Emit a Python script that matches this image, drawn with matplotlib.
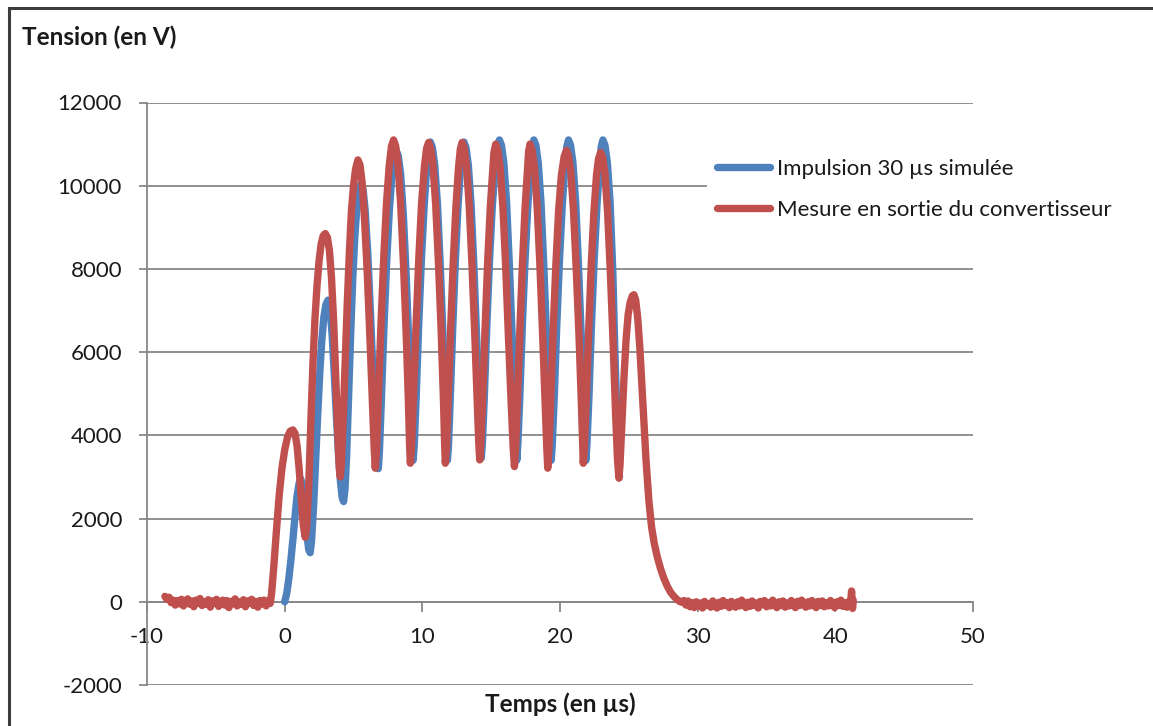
import matplotlib
matplotlib.use('Agg')
import matplotlib.pyplot as plt
from matplotlib.patches import Rectangle

plt.rcParams['font.family'] = ['Lato', 'DejaVu Sans']
plt.rcParams['axes.unicode_minus'] = False

# simulated 30 us pulse (blue): (time in us, voltage in V)
sim_pts = [
    (0.0, 0), (0.15, 200), (0.3, 550), (0.45, 1000), (0.6, 1500), (0.75, 2050), (0.9, 2550),
    (1.05, 2850), (1.17, 2950), (1.3, 2800), (1.45, 2300), (1.6, 1650), (1.75, 1250), (1.85, 1180),
    (1.95, 1450), (2.1, 2300), (2.25, 3400), (2.4, 4500), (2.55, 5500), (2.7, 6300), (2.85, 6850),
    (3.0, 7150), (3.15, 7250), (3.3, 7050), (3.45, 6400), (3.6, 5500), (3.75, 4500), (3.9, 3600),
    (4.05, 2900), (4.18, 2500), (4.28, 2410), (4.38, 2700), (4.5, 3500), (4.65, 5000), (4.8, 6500),
    (4.95, 7800), (5.1, 8800), (5.25, 9500), (5.4, 9900), (5.55, 10050), (5.7, 9900), (5.85, 9400),
    (6.05, 8300), (6.25, 6800), (6.45, 5200), (6.6, 4000), (6.72, 3300), (6.8, 3200),
    (6.88, 3600), (7.02, 4800), (7.2, 6500), (7.4, 8100), (7.6, 9400), (7.8, 10300), (7.95, 10700),
    (8.1, 10850), (8.25, 10720), (8.42, 10300), (8.62, 9300), (8.82, 7900), (9.02, 6200),
    (9.18, 4600), (9.28, 3700), (9.33, 3400),
    (9.41, 3750), (9.55, 4900), (9.73, 6600), (9.93, 8200), (10.13, 9500), (10.31, 10400),
    (10.45, 10900), (10.58, 11050), (10.73, 10920), (10.9, 10500), (11.1, 9550), (11.3, 8100),
    (11.5, 6400), (11.67, 4800), (11.77, 3800), (11.82, 3400),
    (11.9, 3750), (12.03, 4900), (12.21, 6600), (12.4, 8200), (12.59, 9500), (12.77, 10450),
    (12.9, 10900), (13.02, 11050), (13.17, 10920), (13.34, 10500), (13.54, 9550), (13.74, 8100),
    (13.94, 6400), (14.12, 4800), (14.22, 3800), (14.28, 3450),
    (14.36, 3800), (14.5, 4900), (14.68, 6600), (14.88, 8200), (15.08, 9500), (15.3, 10500),
    (15.45, 10950), (15.6, 11100), (15.75, 10970), (15.92, 10550), (16.12, 9600), (16.32, 8100),
    (16.52, 6400), (16.7, 4800), (16.8, 3800), (16.86, 3400),
    (16.94, 3800), (17.08, 4900), (17.26, 6600), (17.46, 8200), (17.66, 9500), (17.86, 10500),
    (17.98, 10950), (18.1, 11100), (18.25, 10970), (18.42, 10550), (18.62, 9600), (18.82, 8100),
    (19.02, 6400), (19.2, 4800), (19.3, 3800), (19.36, 3400),
    (19.44, 3800), (19.58, 4900), (19.76, 6600), (19.96, 8200), (20.16, 9500), (20.36, 10500),
    (20.5, 10950), (20.62, 11100), (20.77, 10970), (20.94, 10550), (21.14, 9600), (21.34, 8100),
    (21.54, 6400), (21.72, 4800), (21.82, 3800), (21.88, 3400),
    (21.96, 3800), (22.1, 4900), (22.28, 6600), (22.48, 8200), (22.68, 9500), (22.88, 10500),
    (23.0, 10950), (23.12, 11100), (23.27, 10970), (23.44, 10550), (23.64, 9600), (23.84, 7900),
    (23.98, 6100), (24.12, 4600), (24.25, 3400), (24.32, 3000),
]

# measured converter output (red): baseline before the pulse
mes_pre = [
    (-8.7, 130), (-8.55, 60), (-8.4, 110), (-8.25, -20), (-8.1, 40), (-7.95, -80), (-7.8, 30),
    (-7.65, -50), (-7.5, 60), (-7.35, -100), (-7.2, 10), (-7.05, 70), (-6.9, -60), (-6.75, 20),
    (-6.6, -120), (-6.45, 40), (-6.3, -30), (-6.15, 80), (-6.0, -90), (-5.85, 0), (-5.7, -60),
    (-5.55, 50), (-5.4, -130), (-5.25, 20), (-5.1, -40), (-4.95, 60), (-4.8, -110), (-4.65, -10),
    (-4.5, 40), (-4.35, -80), (-4.2, 30), (-4.05, -140), (-3.9, 10), (-3.75, -50), (-3.6, 70),
    (-3.45, -100), (-3.3, 0), (-3.15, -60), (-3.0, 50), (-2.85, -120), (-2.7, 20), (-2.55, -40),
    (-2.4, 60), (-2.25, -90), (-2.1, 10), (-1.95, -130), (-1.8, 30), (-1.65, -50), (-1.5, 40),
    (-1.35, -100), (-1.2, 20), (-1.05, -40),
]

# measured: the pulse itself
mes_pulse = [
    (-0.95, 200), (-0.8, 800), (-0.6, 1700), (-0.4, 2550), (-0.2, 3200), (0.0, 3650), (0.2, 3950),
    (0.4, 4100), (0.6, 4130), (0.75, 4050), (0.9, 3750), (1.05, 3200), (1.2, 2500), (1.35, 1850),
    (1.49, 1550), (1.6, 1800), (1.75, 2800), (1.9, 4300), (2.05, 5700), (2.2, 6800), (2.35, 7600),
    (2.5, 8200), (2.65, 8600), (2.8, 8800), (2.95, 8850), (3.1, 8760), (3.25, 8450), (3.4, 7800),
    (3.55, 6800), (3.7, 5500), (3.85, 4100), (3.97, 3200), (4.04, 3000), (4.12, 3300),
    (4.25, 4400), (4.4, 5800), (4.55, 7200), (4.7, 8400), (4.85, 9400), (5.0, 10000),
    (5.15, 10400), (5.32, 10620), (5.47, 10500), (5.62, 10100), (5.8, 9200), (6.0, 7900),
    (6.2, 6300), (6.38, 4700), (6.5, 3700), (6.58, 3210),
    (6.66, 3600), (6.8, 4900), (7.0, 6700), (7.2, 8300), (7.4, 9600), (7.6, 10500), (7.76, 10950),
    (7.91, 11100), (8.06, 10960), (8.22, 10550), (8.42, 9600), (8.62, 8200), (8.82, 6500),
    (8.98, 4900), (9.07, 3800), (9.13, 3330),
    (9.21, 3700), (9.35, 4900), (9.55, 6700), (9.75, 8300), (9.95, 9600), (10.15, 10450),
    (10.31, 10900), (10.46, 11040), (10.61, 10900), (10.77, 10500), (10.97, 9550), (11.17, 8150),
    (11.37, 6500), (11.53, 4900), (11.62, 3800), (11.67, 3330),
    (11.75, 3700), (11.88, 4900), (12.06, 6600), (12.25, 8200), (12.44, 9500), (12.62, 10400),
    (12.76, 10880), (12.89, 11040), (13.04, 10900), (13.2, 10500), (13.4, 9550), (13.6, 8150),
    (13.8, 6500), (13.98, 4900), (14.1, 3800), (14.17, 3410),
    (14.25, 3800), (14.38, 4900), (14.56, 6600), (14.75, 8200), (14.94, 9500), (15.12, 10400),
    (15.2, 10800), (15.33, 11000), (15.48, 10860), (15.65, 10450), (15.85, 9500), (16.05, 8100),
    (16.25, 6400), (16.45, 4800), (16.6, 3700), (16.69, 3250),
    (16.77, 3650), (16.9, 4800), (17.08, 6500), (17.27, 8100), (17.46, 9450), (17.64, 10400),
    (17.72, 10820), (17.82, 11000), (17.97, 10860), (18.14, 10450), (18.34, 9500), (18.54, 8100),
    (18.74, 6400), (18.92, 4800), (19.04, 3700), (19.11, 3210),
    (19.19, 3650), (19.32, 4800), (19.5, 6500), (19.7, 8100), (19.9, 9400), (20.1, 10250),
    (20.3, 10700), (20.47, 10850), (20.62, 10720), (20.78, 10350), (20.98, 9400), (21.18, 8000),
    (21.38, 6400), (21.55, 4800), (21.64, 3800), (21.69, 3330),
    (21.77, 3700), (21.9, 4800), (22.08, 6500), (22.27, 8100), (22.46, 9350), (22.65, 10250),
    (22.8, 10650), (22.95, 10800), (23.1, 10680), (23.26, 10300), (23.46, 9350), (23.66, 7900),
    (23.86, 6200), (24.04, 4500), (24.18, 3400), (24.28, 2970),
    (24.36, 3300), (24.5, 4300), (24.65, 5400), (24.8, 6300), (24.95, 6900), (25.1, 7200),
    (25.25, 7350), (25.37, 7380), (25.5, 7250), (25.65, 6800), (25.8, 6100), (25.95, 5200),
    (26.1, 4300), (26.25, 3400), (26.45, 2450), (26.65, 1800), (26.85, 1400), (27.05, 1100),
    (27.3, 800), (27.55, 560), (27.8, 370), (28.05, 220), (28.3, 120), (28.55, 40), (28.8, -10),
]

# measured: baseline after the pulse
mes_post = [
    (29.0, 30), (29.15, -80), (29.3, 20), (29.45, -120), (29.6, -20), (29.75, -140), (29.9, 0),
    (30.05, -100), (30.2, -30), (30.35, -150), (30.5, 10), (30.65, -90), (30.8, -40),
    (30.95, -130), (31.1, 20), (31.25, -70), (31.4, -150), (31.55, -10), (31.7, -110), (31.85, 30),
    (32.0, -90), (32.15, -20), (32.3, -140), (32.45, 10), (32.6, -80), (32.75, -130), (32.9, 0),
    (33.05, -100), (33.2, 40), (33.35, -60), (33.5, -140), (33.65, -10), (33.8, -110), (33.95, 20),
    (34.1, -90), (34.25, -30), (34.4, -150), (34.55, 10), (34.7, -70), (34.85, 30), (35.0, -120),
    (35.15, -20), (35.3, -100), (35.45, 40), (35.6, -80), (35.75, -140), (35.9, 0), (36.05, -90),
    (36.2, 20), (36.35, -130), (36.5, -30), (36.65, -100), (36.8, 30), (36.95, -70), (37.1, -140),
    (37.25, 10), (37.4, -90), (37.55, 40), (37.7, -60), (37.85, -130), (38.0, 0), (38.15, -100),
    (38.3, 30), (38.45, -80), (38.6, -140), (38.75, 10), (38.9, -90), (39.05, 20), (39.2, -120),
    (39.35, -20), (39.5, -100), (39.65, 30), (39.8, -70), (39.95, -140), (40.1, 0), (40.25, -90),
    (40.4, 40), (40.55, -110), (40.7, -20), (40.85, -130), (41.0, 10), (41.1, -60), (41.18, 260),
    (41.25, -160), (41.3, 40),
]

lab_sim = 'Impulsion 30 µs simulée'
lab_mes = 'Mesure en sortie du convertisseur'
xticks = [-10, 0, 10, 20, 30, 40, 50]
yticks = [-2000, 0, 2000, 4000, 6000, 8000, 10000, 12000]

t_sim = [p[0] for p in sim_pts]
v_sim = [p[1] for p in sim_pts]
mes_all = mes_pre + mes_pulse + mes_post
t_mes = [p[0] for p in mes_all]
v_mes = [p[1] for p in mes_all]

W, H = 1153, 726
fig = plt.figure(figsize=(W / 100, H / 100), dpi=100)
ax = fig.add_axes([147 / W, 1 - 685 / H, 826 / W, 582.5 / H])

blue = '#4F81BD'
red = '#C0504D'
grid_c = '#878787'
txt_c = '#1a1a1a'

ax.plot(t_sim, v_sim, color=blue, lw=5.3, solid_capstyle='round', solid_joinstyle='round',
        label=lab_sim, zorder=3)
ax.plot(t_mes, v_mes, color=red, lw=5.3, solid_capstyle='round', solid_joinstyle='round',
        label=lab_mes, zorder=4)

ax.set_xlim(-10, 50)
ax.set_ylim(-2000, 12000)
ax.set_xticks(xticks)
ax.set_yticks(yticks)
ax.yaxis.grid(True, color=grid_c, lw=1.3)
ax.set_axisbelow(True)

for s in ['top', 'right']:
    ax.spines[s].set_visible(False)
ax.spines['bottom'].set_position(('data', 0))
for s in ['left', 'bottom']:
    ax.spines[s].set_color(grid_c)
    ax.spines[s].set_linewidth(1.3)

ax.tick_params(axis='x', direction='out', length=7, width=1.3, color=grid_c,
               labelsize=16, pad=11, labelcolor=txt_c)
ax.tick_params(axis='y', direction='out', length=6, width=1.3, color=grid_c,
               labelsize=16, pad=12, labelcolor=txt_c)

leg = ax.legend(loc='upper left', bbox_to_anchor=(707 / W, 1 - 149 / H),
                bbox_transform=fig.transFigure, borderaxespad=0, borderpad=0.45,
                fontsize=16, handlelength=2.4, handletextpad=0.3, labelspacing=0.95,
                frameon=True, fancybox=False)
leg.get_frame().set_facecolor('white')
leg.get_frame().set_edgecolor('none')
leg.get_frame().set_alpha(1)
leg.set_zorder(5)
for txt in leg.get_texts():
    txt.set_color(txt_c)

fig.text(22 / W, 1 - 37 / H, 'Tension (en V)', fontsize=17.5, fontweight='bold',
         va='center', ha='left', color=txt_c)
fig.text(560 / W, 1 - 704 / H, 'Temps (en µs)', fontsize=17.5, fontweight='bold',
         va='center', ha='center', color=txt_c)

# chart border (right and bottom edges fall outside the picture)
fig.patches.append(Rectangle((8.5 / W, -0.05), 1.1, 1 - 7.5 / H + 0.05,
                             transform=fig.transFigure, fill=False,
                             edgecolor='#3c3c3c', lw=2.2))

fig.savefig('out.png', dpi=100)
